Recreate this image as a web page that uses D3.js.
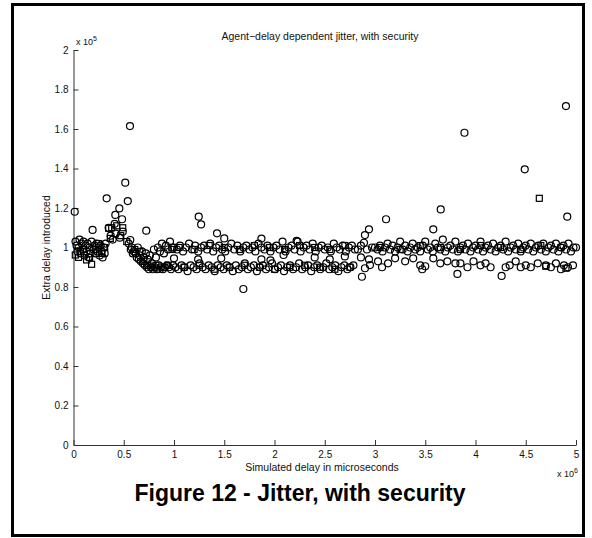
<!DOCTYPE html>
<html>
<head>
<meta charset="utf-8">
<script src="https://cdn.jsdelivr.net/npm/d3@7"></script>
<style>
  body { margin: 0; background: #fff; }
  svg { display: block; font-family: "Liberation Sans", Arial, sans-serif; }
</style>
</head>
<body>
<div id="graph"></div>
<script>
// Values: x in units of 10^6 microseconds, y in units of 10^5
const xTicks = [0, 0.5, 1, 1.5, 2, 2.5, 3, 3.5, 4, 4.5, 5];
const yTicks = [0, 0.2, 0.4, 0.6, 0.8, 1, 1.2, 1.4, 1.6, 1.8, 2];

// circles, start of run (rise and fall before bands settle)
const circlesEarly = [
  [0.012,1.181],[0.02,1.03],[0.03,1.01],[0.04,0.98],[0.05,1.00],[0.06,1.04],[0.07,0.97],[0.08,1.02],
  [0.09,0.99],[0.10,1.03],[0.11,0.96],[0.12,1.01],[0.13,0.98],[0.14,1.02],[0.15,0.95],[0.16,1.00],
  [0.17,0.97],[0.18,1.03],[0.19,1.089],[0.20,0.99],[0.21,1.01],[0.22,0.97],[0.23,1.02],[0.24,0.98],
  [0.25,1.00],[0.26,0.96],[0.27,1.01],[0.28,0.98],[0.29,0.95],[0.30,1.00],[0.31,0.97],[0.32,1.02],
  [0.33,1.249],[0.35,1.10],[0.37,1.06],[0.39,1.04],[0.41,1.12],
  [0.416,1.165],[0.42,1.07],[0.456,1.198],[0.46,1.05],[0.483,1.143],[0.49,1.08],
  [0.515,1.328],[0.54,1.235],[0.562,1.615],[0.55,1.02],[0.565,1.038],[0.57,0.99],[0.58,1.00],
  [0.59,0.97],[0.60,0.98],[0.62,0.97],[0.63,0.95],[0.64,1.00],[0.65,0.94],[0.66,0.96],[0.67,0.93],
  [0.68,0.98],[0.69,0.92],[0.70,0.95],[0.71,0.91],[0.72,0.97],[0.724,1.085],[0.73,0.90],[0.74,0.94],
  [0.75,0.89],[0.76,0.96],[0.77,0.90],[0.78,0.92],[0.79,0.89],[0.80,0.99],[0.81,0.90],[0.82,0.95],
  [0.83,0.89],[0.84,1.00],[0.85,0.91],[0.86,0.98],[0.87,0.90],[0.88,1.02],[0.89,0.89],[0.90,0.97],
  [0.91,0.90],[0.92,1.01],[0.93,0.91],[0.94,0.99],[0.95,0.90],[0.96,1.03],[0.97,0.89],[0.98,1.00],[0.99,0.91]
];

const squaresEarly = [
  [0.018,0.962],[0.05,0.95],[0.07,0.979],[0.10,0.99],[0.13,0.937],[0.16,0.95],[0.18,0.915],
  [0.22,0.99],[0.25,1.02],[0.28,0.97],[0.31,1.00],[0.35,1.097],[0.366,1.046],[0.38,1.10],
  [0.43,1.11],[0.47,1.06],[0.49,1.10],[0.53,1.03],[0.61,0.99],[0.66,0.98],
  [0.70,0.93],[0.74,0.91],[0.78,0.90],[0.82,0.91],[0.86,0.89],[0.90,0.90],[0.94,0.91],[0.98,0.99]
];

// circles, upper band near 1.0
const circlesUpper = [
  [1.00,1.00],[1.03,0.99],[1.06,1.01],[1.09,0.98],[1.12,1.00],[1.15,1.02],[1.18,0.99],[1.21,1.01],
  [1.24,0.98],[1.27,1.00],[1.30,1.01],[1.33,0.99],[1.36,1.02],[1.39,0.98],[1.42,1.00],[1.45,1.01],
  [1.48,0.99],[1.51,0.98],[1.54,1.00],[1.57,1.02],[1.60,0.99],[1.63,1.01],[1.66,0.98],[1.69,1.00],
  [1.72,1.01],[1.75,0.99],[1.78,1.00],[1.81,0.98],[1.84,1.02],[1.87,1.00],[1.90,0.99],[1.93,1.01],
  [1.96,0.98],[1.99,1.00],[2.02,1.01],[2.05,0.99],[2.08,1.03],[2.11,0.98],[2.14,1.00],[2.17,1.01],
  [2.20,0.99],[2.23,1.03],[2.26,0.98],[2.29,1.00],[2.32,1.01],[2.35,0.99],[2.38,1.02],[2.41,0.98],
  [2.44,1.00],[2.47,1.01],[2.50,0.99],[2.53,1.00],[2.56,0.98],[2.59,1.02],[2.62,1.00],[2.65,0.99],
  [2.68,1.01],[2.71,0.98],[2.74,1.00],[2.77,1.01],[2.80,0.99],[2.83,0.99],[2.86,1.01],[2.92,0.99],
  [2.97,1.00],[3.000,1.00],[3.025,0.99],[3.050,1.01],[3.075,0.98],[3.100,1.00],[3.125,1.02],[3.150,0.99],
  [3.175,1.01],[3.200,0.98],[3.225,1.00],[3.250,1.03],[3.275,0.99],[3.300,1.01],[3.325,0.98],[3.350,1.00],
  [3.375,1.02],[3.400,0.99],[3.425,1.00],[3.450,0.98],[3.475,1.01],[3.500,1.03],[3.525,0.99],[3.550,1.00],
  [3.575,0.98],[3.600,1.02],[3.625,1.00],[3.650,0.99],[3.675,1.04],[3.700,0.98],[3.725,1.00],[3.750,1.01],
  [3.775,0.99],[3.800,1.03],[3.825,0.98],[3.850,1.00],[3.875,1.01],[3.900,0.99],[3.925,1.02],[3.950,0.98],
  [3.975,1.00],[4.000,1.01],[4.025,0.99],[4.050,1.03],[4.075,0.98],[4.100,1.00],[4.125,1.01],[4.150,0.99],
  [4.175,1.02],[4.200,0.98],[4.225,1.00],[4.250,1.01],[4.275,0.99],[4.300,1.03],[4.325,0.98],[4.350,1.00],
  [4.375,1.01],[4.400,0.99],[4.425,1.02],[4.450,0.98],[4.475,1.00],[4.500,1.01],[4.525,0.99],[4.550,1.02],
  [4.575,0.98],[4.600,1.00],[4.625,1.01],[4.650,0.99],[4.675,1.02],[4.700,0.98],[4.725,1.00],[4.750,1.01],
  [4.775,0.99],[4.800,1.02],[4.825,0.98],[4.850,1.00],[4.875,1.01],[4.900,0.99],[4.925,1.02],[4.950,0.98],
  [4.975,1.00],[5.000,1.00]
];

// circles, lower band near 0.9
const circlesLower = [
  [1.015,0.90],[1.045,0.89],[1.075,0.91],[1.105,0.90],[1.135,0.88],[1.165,0.91],[1.195,0.90],[1.225,0.89],
  [1.255,0.92],[1.285,0.90],[1.315,0.89],[1.345,0.91],[1.375,0.90],[1.405,0.88],[1.435,0.91],[1.465,0.90],
  [1.495,0.89],[1.525,0.91],[1.555,0.90],[1.585,0.88],[1.615,0.91],[1.645,0.89],[1.675,0.90],[1.705,0.92],
  [1.735,0.89],[1.765,0.90],[1.795,0.91],[1.825,0.88],[1.855,0.90],[1.885,0.91],[1.915,0.89],[1.945,0.90],
  [1.975,0.92],[2.005,0.89],[2.035,0.90],[2.065,0.91],[2.095,0.88],[2.125,0.90],[2.155,0.91],[2.185,0.89],
  [2.215,0.90],[2.245,0.92],[2.275,0.89],[2.305,0.90],[2.335,0.91],[2.365,0.88],[2.395,0.90],[2.425,0.91],
  [2.455,0.89],[2.485,0.90],[2.515,0.92],[2.545,0.89],[2.575,0.90],[2.605,0.91],[2.635,0.88],[2.665,0.90],
  [2.695,0.91],[2.725,0.89],[2.755,0.90],[2.785,0.91],[3.03,0.93],[3.07,0.90],[3.13,0.92],[3.30,0.93],
  [3.45,0.91],[3.47,0.89],[3.50,0.905],[3.65,0.92],[3.72,0.93],[3.80,0.92],[3.82,0.866],[3.85,0.92],
  [3.92,0.90],[3.98,0.93],[4.05,0.91],[4.10,0.92],[4.15,0.90],[4.26,0.856],[4.30,0.90],[4.34,0.91],
  [4.40,0.93],[4.45,0.90],[4.50,0.91],[4.55,0.90],[4.62,0.92],[4.70,0.91],[4.75,0.90],[4.80,0.92],
  [4.85,0.89],[4.88,0.91],[4.92,0.90],[4.97,0.91]
];

// circles lying off the two bands
const circlesStray = [
  [1.0,0.945],[1.24,0.94],[1.47,0.945],[1.87,0.94],[1.96,0.935],[2.09,0.962],[2.40,0.95],[2.55,0.94],
  [2.70,0.955],[1.246,1.156],[1.27,1.117],[1.428,1.072],[1.50,1.046],[1.87,1.045],[2.22,1.034],[1.69,0.79],
  [2.86,0.95],[2.87,0.852],[2.89,1.024],[2.90,1.063],[2.94,1.092],[2.94,0.94],[2.95,0.911],[2.90,0.895],
  [3.20,0.945],[3.38,0.945],[3.58,0.945],[3.11,1.143],[3.58,1.092],[3.654,1.193],[3.89,1.581],[4.49,1.396],
  [4.90,1.716],[4.913,1.156]
];

const squaresBand = [
  [1.05,1.00],[1.20,0.99],[1.35,1.01],[1.50,1.00],[1.65,0.99],[1.80,1.01],[1.95,1.00],[2.10,0.99],
  [2.25,1.01],[2.40,1.00],[2.55,0.99],[2.70,1.01],[3.05,1.00],[3.25,0.99],[3.45,1.01],[3.65,1.00],
  [3.85,0.99],[4.05,1.01],[4.25,1.00],[4.45,0.99],[4.65,1.01],[4.85,1.00],
  [1.10,0.90],[1.25,0.91],[1.40,0.89],[1.55,0.90],[1.70,0.91],[1.85,0.90],[2.00,0.89],[2.15,0.90],
  [2.30,0.91],[2.45,0.90],[2.60,0.89],[2.75,0.90],[4.70,0.905],[4.90,0.895],[4.635,1.249]
];

const width = 592;
const height = 538;
const marginLeft = 73.5;
const marginRight = 16;
const marginTop = 50;
const marginBottom = 93;

const x = d3.scaleLinear().domain([0, 5]).range([marginLeft, width - marginRight]);
const y = d3.scaleLinear().domain([0, 2]).range([height - marginBottom, marginTop]);

const svg = d3.create("svg")
    .attr("width", width)
    .attr("height", height);

// outer frame
svg.append("rect")
    .attr("x", 12.5).attr("y", 4.5)
    .attr("width", 571).attr("height", 531)
    .attr("fill", "none")
    .attr("stroke", "#000")
    .attr("stroke-width", 3);

// axes, ticks pointing inward
const xAxis = d3.axisBottom(x).tickValues(xTicks).tickSize(-5).tickSizeOuter(0)
    .tickFormat(d => d3.format("")(d));
const yAxis = d3.axisLeft(y).tickValues(yTicks).tickSize(-5).tickSizeOuter(0)
    .tickFormat(d => d3.format("")(d));

const gx = svg.append("g")
    .attr("transform", `translate(0,${y(0)})`)
    .call(xAxis);
gx.select(".domain").attr("stroke", "#333");
gx.selectAll(".tick line").attr("stroke", "#333");
gx.selectAll(".tick text")
    .attr("y", 6).attr("dy", "0.71em")
    .attr("font-size", 10).attr("fill", "#111")
    .attr("font-family", "Liberation Sans, Arial, sans-serif");

const gy = svg.append("g")
    .attr("transform", `translate(${x(0)},0)`)
    .call(yAxis);
gy.select(".domain").attr("stroke", "#333");
gy.selectAll(".tick line").attr("stroke", "#333");
gy.selectAll(".tick text")
    .attr("x", -5)
    .attr("font-size", 10).attr("fill", "#111")
    .attr("font-family", "Liberation Sans, Arial, sans-serif");

// exponent labels
const expY = svg.append("text")
    .attr("x", 76).attr("y", 45)
    .attr("font-size", 9).attr("fill", "#111");
expY.append("tspan").text("x 10");
expY.append("tspan").attr("dy", -4).attr("font-size", 7).text("5");

const expX = svg.append("text")
    .attr("x", 578).attr("y", 477)
    .attr("text-anchor", "end")
    .attr("font-size", 9).attr("fill", "#111");
expX.append("tspan").text("x 10");
expX.append("tspan").attr("dy", -4).attr("font-size", 7).text("6");

// title and axis labels
svg.append("text")
    .attr("x", 320).attr("y", 40)
    .attr("text-anchor", "middle")
    .attr("font-size", 10.5).attr("fill", "#111")
    .text("Agent\u2212delay dependent jitter, with security");

svg.append("text")
    .attr("x", 322).attr("y", 471)
    .attr("text-anchor", "middle")
    .attr("font-size", 10.5).attr("fill", "#111")
    .text("Simulated delay in microseconds");

svg.append("text")
    .attr("transform", `translate(50,${y(1)}) rotate(-90)`)
    .attr("text-anchor", "middle")
    .attr("font-size", 10.5).attr("fill", "#111")
    .text("Extra delay introduced");

svg.append("text")
    .attr("x", 300).attr("y", 501)
    .attr("text-anchor", "middle")
    .attr("font-size", 23).attr("font-weight", "bold")
    .text("Figure 12 - Jitter, with security");

// markers
const sq = 6;
svg.append("g")
    .selectAll("rect")
    .data(squaresEarly.concat(squaresBand))
    .join("rect")
    .attr("x", d => x(d[0]) - sq / 2)
    .attr("y", d => y(d[1]) - sq / 2)
    .attr("width", sq).attr("height", sq)
    .attr("fill", "none")
    .attr("stroke", "#000")
    .attr("stroke-width", 1.2);

svg.append("g")
    .selectAll("circle")
    .data(circlesEarly.concat(circlesUpper, circlesLower, circlesStray))
    .join("circle")
    .attr("cx", d => x(d[0]))
    .attr("cy", d => y(d[1]))
    .attr("r", 3.5)
    .attr("fill", "none")
    .attr("stroke", "#000")
    .attr("stroke-width", 1.2);

document.getElementById("graph").appendChild(svg.node());
</script>
</body>
</html>
